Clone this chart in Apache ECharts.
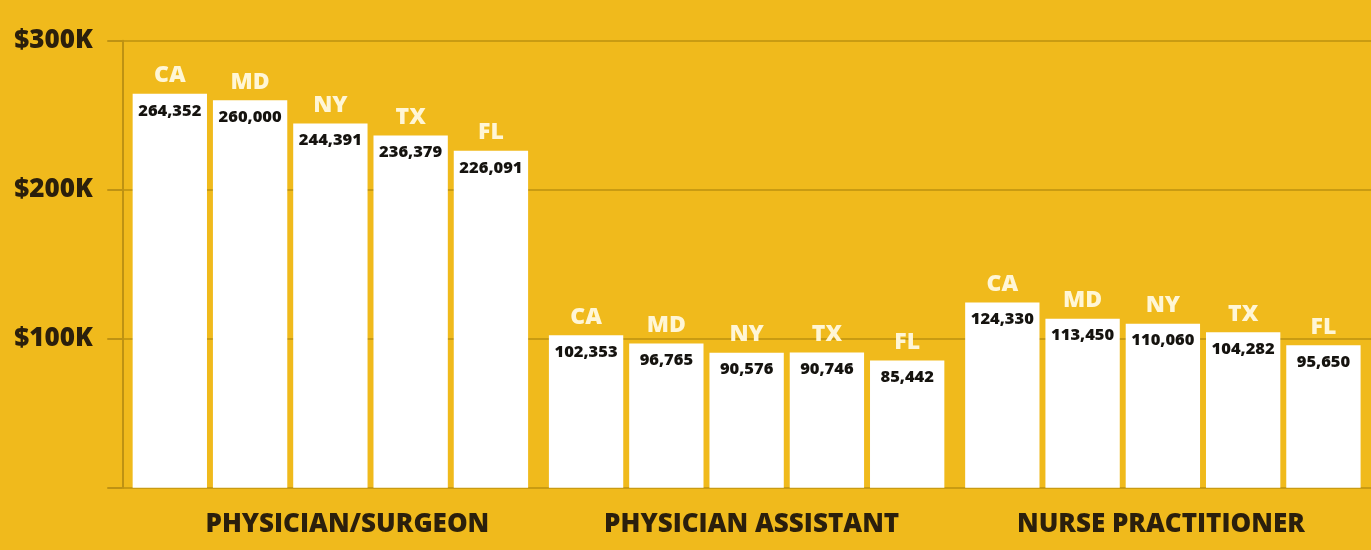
<!DOCTYPE html>
<html>
<head>
<meta charset="utf-8">
<script src="https://cdn.jsdelivr.net/npm/echarts@6/dist/echarts.min.js"></script>
<style>
html,body{margin:0;padding:0;background:#F0BA1C;}
#chart{width:1371px;height:550px;}
</style>
</head>
<body>
<div id="chart"></div>
<script>
const categories = ['PHYSICIAN/SURGEON', 'PHYSICIAN ASSISTANT', 'NURSE PRACTITIONER'];
const states = ['CA', 'MD', 'NY', 'TX', 'FL'];
const CA = [264352, 102353, 124330];
const MD = [260000, 96765, 113450];
const NY = [244391, 90576, 110060];
const TX = [236379, 90746, 104282];
const FL = [226091, 85442, 95650];
const yTicks = [0, 100000, 200000, 300000];
const yTickLabels = ['', '$100K', '$200K', '$300K'];

const seriesValues = [CA, MD, NY, TX, FL];
const FONT = 'Open Sans';

const chart = echarts.init(document.getElementById('chart'));
const option = {
  backgroundColor: '#F0BA1C',
  animation: false,
  grid: {left: 122.25, width: 1252.5, top: 40.7, height: 447},
  xAxis: {
    type: 'category',
    data: categories,
    axisLine: {show: false},
    axisTick: {show: false},
    axisLabel: {
      margin: 24,
      formatter: function (v, i) { return '{c' + i + '|' + v + '}'; },
      rich: {
        c0: {fontFamily: FONT, fontWeight: 800, fontSize: 26, color: '#2B1F0C', padding: [0, 0, 0, 34]},
        c1: {fontFamily: FONT, fontWeight: 800, fontSize: 26, color: '#2B1F0C', padding: [0, 0, 0, 10]},
        c2: {fontFamily: FONT, fontWeight: 800, fontSize: 26, color: '#2B1F0C', padding: [0, 4, 0, 0]}
      }
    }
  },
  yAxis: {
    type: 'value',
    min: yTicks[0],
    max: yTicks[yTicks.length - 1],
    interval: yTicks[1] - yTicks[0],
    axisLine: {show: true, lineStyle: {color: '#BE9213', width: 2}},
    axisTick: {show: true, length: 15, lineStyle: {color: '#BE9213', width: 2}},
    splitLine: {show: true, lineStyle: {color: '#C99B12', width: 2}},
    axisLabel: {
      align: 'left',
      margin: 108,
      fontFamily: FONT,
      fontWeight: 800,
      fontSize: 26,
      color: '#2B1F0C',
      padding: [6, 0, 0, 0],
      formatter: function (v) { const i = yTicks.indexOf(v); return i >= 0 ? yTickLabels[i] : ''; }
    }
  },
  series: states.map(function (s, si) {
    return {
      name: s,
      type: 'bar',
      data: seriesValues[si],
      barGap: '8%',
      barCategoryGap: '5%',
      itemStyle: {color: '#FFFFFF'},
      label: {
        show: true,
        position: 'top',
        distance: 0,
        offset: [0, 34.5],
        formatter: function (p) {
          return '{s|' + s + '}\n{v|' + p.value.toLocaleString('en-US') + '}';
        },
        rich: {
          s: {fontFamily: FONT, fontWeight: 800, fontSize: 23, color: '#FFF6D6', lineHeight: 35, align: 'center'},
          v: {fontFamily: FONT, fontWeight: 800, fontSize: 16.5, color: '#15130F', lineHeight: 35, align: 'center'}
        }
      }
    };
  })
};
chart.setOption(option);
</script>
</body>
</html>
